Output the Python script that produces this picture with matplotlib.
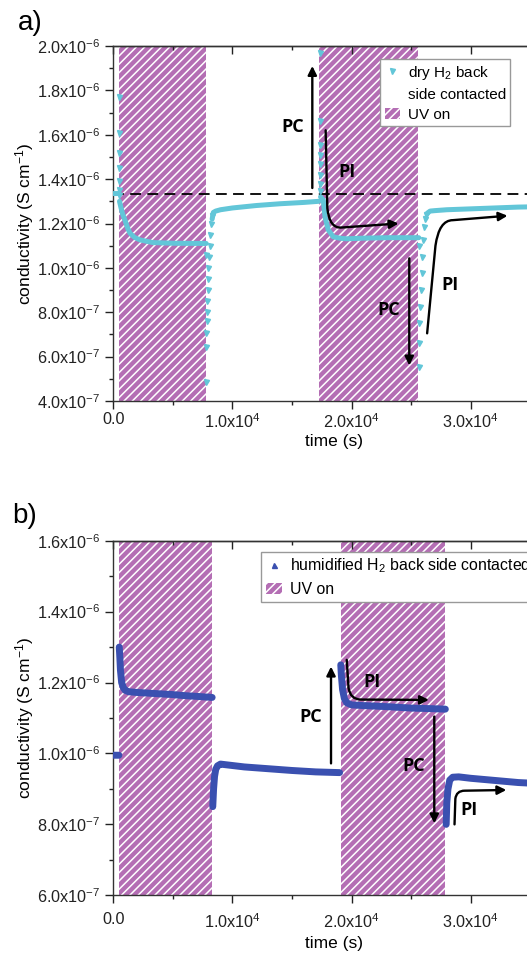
import numpy as np
import matplotlib
matplotlib.use("Agg")
import matplotlib.pyplot as plt
from matplotlib.lines import Line2D
from matplotlib.patches import Patch, FancyArrowPatch
from matplotlib.path import Path
from matplotlib.ticker import FuncFormatter, MultipleLocator, NullFormatter

plt.rcParams['font.family'] = ['Liberation Sans', 'DejaVu Sans']
plt.rcParams['mathtext.fontset'] = 'custom'
plt.rcParams['mathtext.rm'] = 'Liberation Sans'
plt.rcParams['mathtext.it'] = 'Liberation Sans:italic'
plt.rcParams['mathtext.bf'] = 'Liberation Sans:bold'
plt.rcParams['hatch.linewidth'] = 1.1

nan = float('nan')

# ---------------- data: panel a (dry H2) ----------------
uv_a_start = [480, 17300]
uv_a_end = [7760, 25610]
a_ref_level = 1.335e-6

# dense trace (NaN separates segments)
a_trace_t = [0, 250, 480, nan,
             520, 650, 800, 980, 1200, 1400, 1800, 2240, 3330, 5000, 7800, nan,
             8300, 8400, 8600, 9000, 10000, 12000, 14000, 16000, 17250, nan,
             17400, 17630, 17770, 18050, 18470, 19000, 19600, 21000, 23000, 25650, nan,
             26350, 26600, 27000, 28000, 30000, 32000, 34000, 37000]
a_trace_v = [1.335e-6, 1.335e-6, 1.335e-6, nan,
             1.30e-6, 1.27e-6, 1.24e-6, 1.215e-6, 1.18e-6, 1.156e-6, 1.137e-6, 1.126e-6, 1.114e-6, 1.111e-6, 1.110e-6, nan,
             1.22e-6, 1.25e-6, 1.256e-6, 1.262e-6, 1.270e-6, 1.281e-6, 1.289e-6, 1.295e-6, 1.30e-6, nan,
             1.32e-6, 1.306e-6, 1.231e-6, 1.171e-6, 1.140e-6, 1.134e-6, 1.131e-6, 1.134e-6, 1.136e-6, 1.136e-6, nan,
             1.246e-6, 1.256e-6, 1.258e-6, 1.262e-6, 1.266e-6, 1.270e-6, 1.274e-6, 1.277e-6]

# sparse transition points
a_sparse_t = [500, 500, 500, 500, 500, 500, 500,
              7760, 7760, 7780, 7800, 7830, 7850, 7880, 7910, 7950, 7990, 8030, 8080, 8130, 8200, 8280,
              17350, 17350, 17350, 17350, 17350, 17350, 17350, 17350,
              25630, 25650, 25660, 25700, 25760, 25820, 25890, 25960, 26040, 26120, 26200, 26280]
a_sparse_v = [1.772e-6, 1.609e-6, 1.519e-6, 1.449e-6, 1.393e-6, 1.351e-6, 1.328e-6,
              1.06e-6, 0.487e-6, 0.645e-6, 0.705e-6, 0.76e-6, 0.80e-6, 0.85e-6, 0.90e-6, 0.95e-6, 1.00e-6, 1.05e-6, 1.10e-6, 1.15e-6, 1.20e-6, 1.235e-6,
              1.967e-6, 1.662e-6, 1.556e-6, 1.51e-6, 1.47e-6, 1.42e-6, 1.38e-6, 1.345e-6,
              1.10e-6, 0.555e-6, 0.66e-6, 0.75e-6, 0.825e-6, 0.90e-6, 0.975e-6, 1.05e-6, 1.126e-6, 1.186e-6, 1.22e-6, 1.24e-6]

# ---------------- data: panel b (humidified H2) ----------------
uv_b_start = [480, 19090]
uv_b_end = [8310, 27880]

b_trace_t = [0, 200, 470, nan,
             500, 550, 600, 700, 850, 1000, 1300, 2000, 3000, 4000, 5000, 6000, 7000, 8300, nan,
             8350, 8420, 8500, 8600, 8750, 9000, 9500, 11000, 13000, 15000, 17000, 19000, nan,
             19100, 19150, 19250, 19400, 19600, 20000, 21000, 23000, 25000, 27000, 27880, nan,
             27950, 28000, 28100, 28250, 28500, 29000, 30000, 32000, 34000, 37000]
b_trace_v = [0.995e-6, 0.995e-6, 0.995e-6, nan,
             1.30e-6, 1.27e-6, 1.235e-6, 1.20e-6, 1.185e-6, 1.178e-6, 1.174e-6, 1.172e-6, 1.170e-6, 1.168e-6, 1.166e-6, 1.163e-6, 1.161e-6, 1.158e-6, nan,
             0.85e-6, 0.90e-6, 0.935e-6, 0.955e-6, 0.965e-6, 0.970e-6, 0.968e-6, 0.962e-6, 0.957e-6, 0.952e-6, 0.948e-6, 0.946e-6, nan,
             1.25e-6, 1.22e-6, 1.18e-6, 1.155e-6, 1.143e-6, 1.137e-6, 1.135e-6, 1.132e-6, 1.128e-6, 1.126e-6, 1.125e-6, nan,
             0.80e-6, 0.86e-6, 0.90e-6, 0.925e-6, 0.933e-6, 0.934e-6, 0.930e-6, 0.924e-6, 0.918e-6, 0.913e-6]

# axis ranges
a_ylim = (4.0e-7, 2.0e-6)
b_ylim = (6.0e-7, 1.6e-6)
x_lim = (0, 37000)

CYAN = '#62c6d8'
BLUE = '#3a50b0'
PURPLE = '#b46eb4'
HATCH = '////'

W, H = 527, 957
fig = plt.figure(figsize=(W / 100, H / 100), dpi=100)


def px_axes(left, top, right, bottom):
    return fig.add_axes([left / W, 1 - bottom / H, (right - left) / W, (bottom - top) / H])


def sci_fmt(v, pos):
    if abs(v) < 1e-20:
        return '0.0'
    e = int(np.floor(np.log10(abs(v)) + 1e-9))
    m = v / 10 ** e
    return f'{m:.1f}x10$^{{{e}}}$'


def style_axes(ax, ylim, xpad, labelpad):
    ax.set_xlim(*x_lim)
    ax.set_ylim(*ylim)
    ax.xaxis.set_major_locator(MultipleLocator(1e4))
    ax.xaxis.set_minor_locator(MultipleLocator(5e3))
    ax.yaxis.set_major_locator(MultipleLocator(2e-7))
    ax.yaxis.set_minor_locator(MultipleLocator(1e-7))
    ax.xaxis.set_major_formatter(FuncFormatter(sci_fmt))
    ax.yaxis.set_major_formatter(FuncFormatter(sci_fmt))
    ax.tick_params(axis='both', which='major', direction='out', length=6, width=1, labelsize=11.7, colors='#222222')
    ax.tick_params(axis='both', which='minor', direction='out', length=3, width=1, colors='#222222')
    ax.tick_params(axis='y', which='major', pad=3)
    ax.tick_params(axis='x', which='major', pad=xpad)
    for s in ax.spines.values():
        s.set_linewidth(1.0)
        s.set_color('#333333')
    ax.set_ylabel('conductivity (S cm$^{-1}$)', fontsize=12.5)
    ax.yaxis.set_label_coords(-0.176, 0.5)
    ax.set_xlabel('time (s)', fontsize=12.5, labelpad=labelpad)
    sec = ax.secondary_xaxis('top')
    sec.xaxis.set_major_locator(MultipleLocator(1e4))
    sec.xaxis.set_minor_locator(MultipleLocator(5e3))
    sec.xaxis.set_major_formatter(NullFormatter())
    sec.tick_params(which='major', direction='in', length=6, width=1, colors='#222222')
    sec.tick_params(which='minor', direction='in', length=3, width=1, colors='#222222')
    sec.spines['top'].set_linewidth(1.0)
    sec.spines['top'].set_color('#333333')


def curved_arrow(ax, verts, codes):
    p = FancyArrowPatch(path=Path(verts, codes), arrowstyle='-|>', mutation_scale=13,
                        lw=1.7, color='black', zorder=6)
    ax.add_patch(p)


def straight_arrow(ax, tail, head):
    ax.annotate('', xy=head, xytext=tail,
                arrowprops=dict(arrowstyle='-|>', lw=1.7, color='black', mutation_scale=13,
                                shrinkA=0, shrinkB=0), zorder=6)


ann_font = dict(fontsize=13, fontweight='bold', family=['Open Sans', 'DejaVu Sans'], ha='center', va='center', zorder=7)
leg_kw = dict(loc='upper left', bbox_transform=fig.transFigure, frameon=True, fancybox=False,
              edgecolor='#999999', framealpha=1, borderpad=0.3, labelspacing=0.4, handlelength=1.0,
              handletextpad=0.5, borderaxespad=0)

# ---------------- panel a ----------------
axa = px_axes(113.3, 46, 113.3 + 3.7 * 119.1, 401)
for s0, s1 in zip(uv_a_start, uv_a_end):
    axa.axvspan(s0, s1, facecolor=PURPLE, edgecolor='white', hatch=HATCH, lw=0, zorder=0)
axa.axhline(a_ref_level, color='black', lw=1.3, dashes=(6, 3.5), zorder=3)
axa.plot(a_trace_t, a_trace_v, color=CYAN, lw=3.6, solid_capstyle='round', zorder=4)
axa.plot(a_sparse_t, a_sparse_v, ls='none', marker='v', ms=3.6, color=CYAN, mec=CYAN, zorder=4)
style_axes(axa, a_ylim, 2, 2)

straight_arrow(axa, (16710, 1.36e-6), (16710, 1.91e-6))
axa.text(15080, 1.635e-6, 'PC', **ann_font)
curved_arrow(axa,
             [(17830, 1.62e-6), (17970, 1.27e-6), (18150, 1.175e-6), (19200, 1.182e-6), (23950, 1.20e-6)],
             [Path.MOVETO, Path.LINETO, Path.CURVE3, Path.CURVE3, Path.LINETO])
axa.text(19650, 1.43e-6, 'PI', **ann_font)
straight_arrow(axa, (24850, 1.043e-6), (24850, 0.56e-6))
axa.text(23100, 0.81e-6, 'PC', **ann_font)
curved_arrow(axa,
             [(26350, 0.705e-6), (27050, 1.10e-6), (27350, 1.215e-6), (28500, 1.215e-6), (33100, 1.235e-6)],
             [Path.MOVETO, Path.LINETO, Path.CURVE3, Path.CURVE3, Path.LINETO])
axa.text(28300, 0.925e-6, 'PI', **ann_font)

leg_a = axa.legend(handles=[Line2D([], [], ls='none', marker='v', ms=3.6, color=CYAN),
                            Line2D([], [], ls='none'),
                            Patch(facecolor=PURPLE, edgecolor='white', hatch=HATCH, lw=0)],
                   labels=['dry H$_2$ back', 'side contacted', 'UV on'],
                   bbox_to_anchor=(380 / W, 1 - 59 / H), fontsize=11, **leg_kw)
leg_a.get_frame().set_linewidth(1.0)
fig.text(18 / W, 1 - 10 / H, 'a)', fontsize=20, ha='left', va='top')

# ---------------- panel b ----------------
axb = px_axes(113.3, 540.7, 113.3 + 3.7 * 119.1, 895.3)
for s0, s1 in zip(uv_b_start, uv_b_end):
    axb.axvspan(s0, s1, facecolor=PURPLE, edgecolor='white', hatch=HATCH, lw=0, zorder=0)
axb.plot(b_trace_t, b_trace_v, color=BLUE, lw=5, solid_capstyle='round', zorder=4)
style_axes(axb, b_ylim, 6, 4)

straight_arrow(axb, (18280, 0.972e-6), (18280, 1.245e-6))
axb.text(16600, 1.104e-6, 'PC', **ann_font)
curved_arrow(axb,
             [(19600, 1.264e-6), (19750, 1.185e-6), (19900, 1.152e-6), (20800, 1.152e-6), (26500, 1.151e-6)],
             [Path.MOVETO, Path.LINETO, Path.CURVE3, Path.CURVE3, Path.LINETO])
axb.text(21750, 1.202e-6, 'PI', **ann_font)
straight_arrow(axb, (26950, 1.104e-6), (26950, 0.803e-6))
axb.text(25200, 0.965e-6, 'PC', **ann_font)
curved_arrow(axb,
             [(28650, 0.80e-6), (28720, 0.872e-6), (28800, 0.895e-6), (29500, 0.895e-6), (33000, 0.897e-6)],
             [Path.MOVETO, Path.LINETO, Path.CURVE3, Path.CURVE3, Path.LINETO])
axb.text(29900, 0.841e-6, 'PI', **ann_font)

leg_b = axb.legend(handles=[Line2D([], [], ls='none', marker='^', ms=3.6, color=BLUE),
                            Patch(facecolor=PURPLE, edgecolor='white', hatch=HATCH, lw=0)],
                   labels=['humidified H$_2$ back side contacted', 'UV on'],
                   bbox_to_anchor=(261 / W, 1 - 552 / H), fontsize=11.4, **leg_kw)
leg_b.get_frame().set_linewidth(1.0)
fig.text(12 / W, 1 - 503 / H, 'b)', fontsize=20, ha='left', va='top')

fig.savefig('out.png', dpi=100)
